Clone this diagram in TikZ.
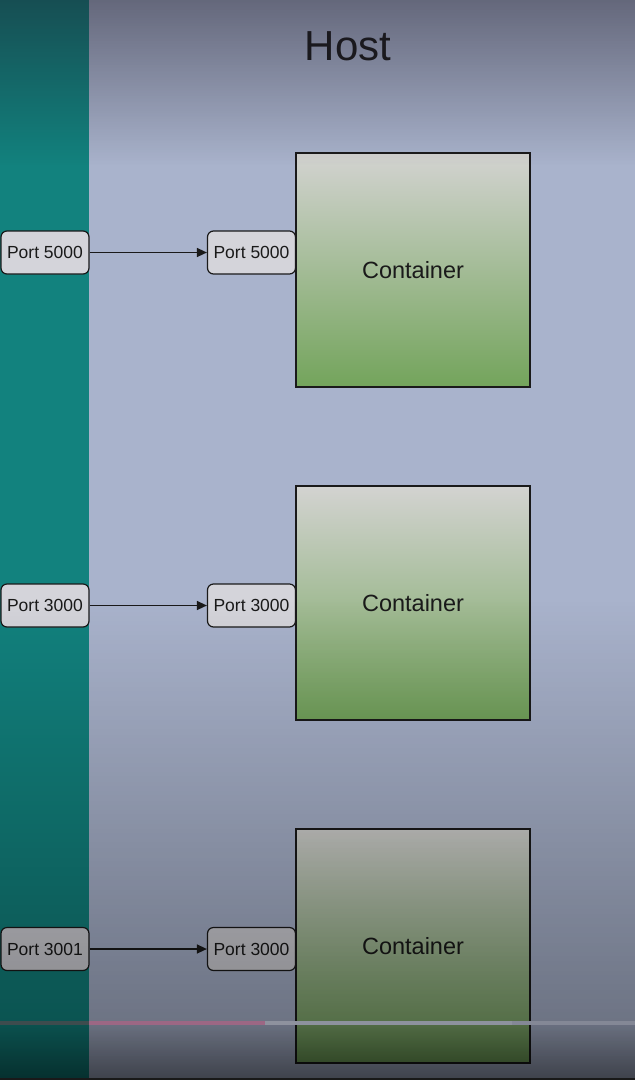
\documentclass[tikz,border=0pt]{standalone}
\usepackage{fontspec}
\setmainfont{Liberation Sans}
\usetikzlibrary{arrows.meta,fadings}
\definecolor{tealbg}{HTML}{12827E}
\definecolor{hostbg}{HTML}{A9B3CC}
\definecolor{portfill}{HTML}{D4D4DA}
\definecolor{inkc}{HTML}{1A1A1A}
\definecolor{ctop}{HTML}{D3D3D1}
\definecolor{cbot}{HTML}{73A45B}
\definecolor{vigtop}{HTML}{1C1826}
\definecolor{pbdark}{HTML}{3D4C4E}
\definecolor{pbpink}{HTML}{9C6784}
\definecolor{pbgray}{HTML}{8E929E}
\definecolor{pbrest}{HTML}{848896}
\tikzfading[name=fadetop, top color=transparent!0, bottom color=transparent!100]
\tikzfading[name=fadebot, top color=transparent!100, bottom color=transparent!0]
\tikzset{
  portbox/.style={draw=inkc, line width=1.2pt, fill=portfill, rounded corners=6pt,
    minimum width=88pt, minimum height=43pt, inner sep=0pt, text=inkc,
    font=\fontsize{17.5}{20}\selectfont},
  contbox/.style={draw=inkc, line width=1.2pt, top color=ctop, bottom color=cbot,
    minimum width=234pt, minimum height=234pt, inner sep=0pt, text=inkc,
    font=\fontsize{23.5}{27}\selectfont},
  link/.style={draw=inkc, line width=1.4pt, -{Triangle[length=10pt,width=9pt]}},
}
\begin{document}
\begin{tikzpicture}[x=1pt,y=-1pt]
\useasboundingbox (0,0) rectangle (635,1080);
% backgrounds
\fill[hostbg] (89,0) rectangle (635,1080);
\fill[tealbg] (0,0) rectangle (89,1080);
% title
\node[anchor=base, text=inkc, font=\fontsize{42}{48}\selectfont, inner sep=0pt] (host) at (348,60) {Host};
% containers
\node[contbox] (c1) at (413,270) {Container};
\node[contbox] (c2) at (413,603) {Container};
\node[contbox] (c3) at (413,946) {Container};
% ports
\node[portbox] (l1) at (45,252.5) {Port 5000};
\node[portbox] (l2) at (45,605.5) {Port 3000};
\node[portbox] (l3) at (45,949) {Port 3001};
\node[portbox] (r1) at (251.5,252.5) {Port 5000};
\node[portbox] (r2) at (251.5,605.5) {Port 3000};
\node[portbox] (r3) at (251.5,949) {Port 3000};
% connectors
\draw[link] (l1) -- (r1);
\draw[link] (l2) -- (r2);
\draw[link] (l3) -- (r3);
% vignette
\fill[vigtop, opacity=0.66, path fading=fadetop] (0,-60) rectangle (635,165);
\fill[black, opacity=0.4, path fading=fadebot] (0,600) rectangle (635,1080);
\fill[black, opacity=0.45, path fading=fadebot] (0,1020) rectangle (635,1090);
\fill[black!90] (0,1077.5) rectangle (635,1080);
% progress bar
\fill[pbdark] (0,1021) rectangle (89,1025);
\fill[pbpink] (89,1021) rectangle (265,1025);
\fill[pbgray] (265,1021) rectangle (512,1025);
\fill[pbrest] (512,1021) rectangle (635,1025);
\end{tikzpicture}
\end{document}
